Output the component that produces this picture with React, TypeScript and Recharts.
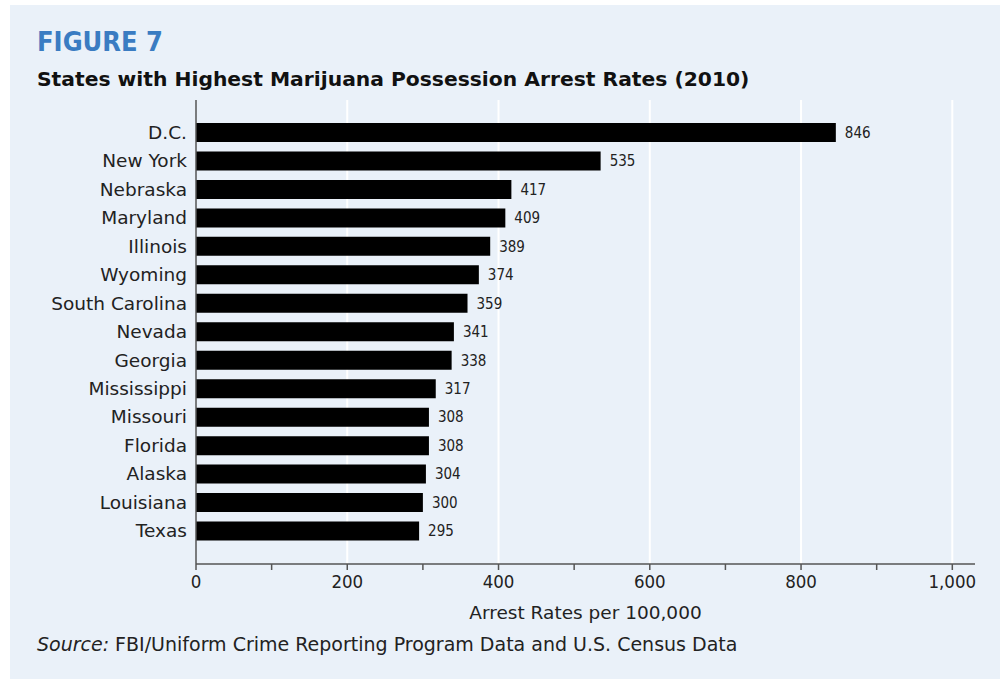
import { Bar, BarChart, CartesianGrid, Label, LabelList, XAxis, YAxis } from "recharts";

const STATES = [
  "D.C.", "New York", "Nebraska", "Maryland", "Illinois", "Wyoming", "South Carolina", "Nevada",
  "Georgia", "Mississippi", "Missouri", "Florida", "Alaska", "Louisiana", "Texas",
];
const RATES = [846, 535, 417, 409, 389, 374, 359, 341, 338, 317, 308, 308, 304, 300, 295];
const X_TICKS = [0, 100, 200, 300, 400, 500, 600, 700, 800, 900, 1000];
const GRID_VALUES = [200, 400, 600, 800, 1000];
const X_MAX = 1030;

const SANS = "'DejaVu Sans', sans-serif";
const NARROW = "'DejaVu Sans Condensed', 'DejaVu Sans', sans-serif";
const TEXT = "#222";

const data = STATES.map((state, i) => ({ state, rate: RATES[i] }));

const gridX = (props: any) => {
  const { xAxis, offset } = props;
  const s = xAxis && xAxis.scale;
  return GRID_VALUES.map((v) =>
    typeof s === "function" ? s(v) : offset.left + (offset.width * v) / X_MAX
  );
};

export default function App() {
  return (
    <div style={{ position: "absolute", left: 0, top: 0, width: 1000, height: 679, background: "#fff", fontFamily: SANS }}>
      <div style={{ position: "absolute", left: 10, top: 5, width: 990, height: 674, background: "#eaf1f9" }} />
      <div style={{ position: "absolute", left: 37, top: 26, fontSize: 27, fontWeight: 700, color: "#3a7cc2", fontFamily: NARROW }}>
        FIGURE 7
      </div>
      <div style={{ position: "absolute", left: 37, top: 67, fontSize: 20.3, fontWeight: 700, color: "#111" }}>
        States with Highest Marijuana Possession Arrest Rates (2010)
      </div>
      <div style={{ position: "absolute", left: 0, top: 0 }}>
        <BarChart
          width={1000}
          height={679}
          data={data}
          layout="vertical"
          margin={{ top: 100, right: 25, bottom: 55, left: 0 }}
        >
          <CartesianGrid
            horizontal={false}
            stroke="#ffffff"
            strokeWidth={2}
            verticalCoordinatesGenerator={gridX}
          />
          <XAxis
            type="number"
            domain={[0, X_MAX]}
            ticks={X_TICKS}
            allowDataOverflow
            tickFormatter={(v: number) => (v % 200 === 0 ? v.toLocaleString("en-US") : "")}
            height={60}
            tickSize={6}
            tickMargin={5}
            stroke="#555"
            strokeWidth={1.5}
            tick={{ fill: TEXT, fontSize: 18.5, fontFamily: NARROW }}
          >
            <Label
              value="Arrest Rates per 100,000"
              position="insideBottom"
              offset={5}
              style={{ fill: TEXT, fontSize: 18.5, fontFamily: SANS }}
            />
          </XAxis>
          <YAxis
            type="category"
            dataKey="state"
            width={196}
            tickLine={false}
            tickSize={0}
            tickMargin={9}
            padding={{ top: 18, bottom: 19 }}
            stroke="#555"
            strokeWidth={1.5}
            interval={0}
            tick={{ fill: TEXT, fontSize: 18.5, fontFamily: SANS }}
          />
          <Bar dataKey="rate" fill="#000" barSize={19} isAnimationActive={false}>
            <LabelList dataKey="rate" position="right" offset={9} fill={TEXT} fontSize={15} fontFamily={NARROW} />
          </Bar>
        </BarChart>
      </div>
      <div style={{ position: "absolute", left: 37, top: 633, fontSize: 19, color: TEXT }}>
        <i>Source:</i> FBI/Uniform Crime Reporting Program Data and U.S. Census Data
      </div>
    </div>
  );
}
